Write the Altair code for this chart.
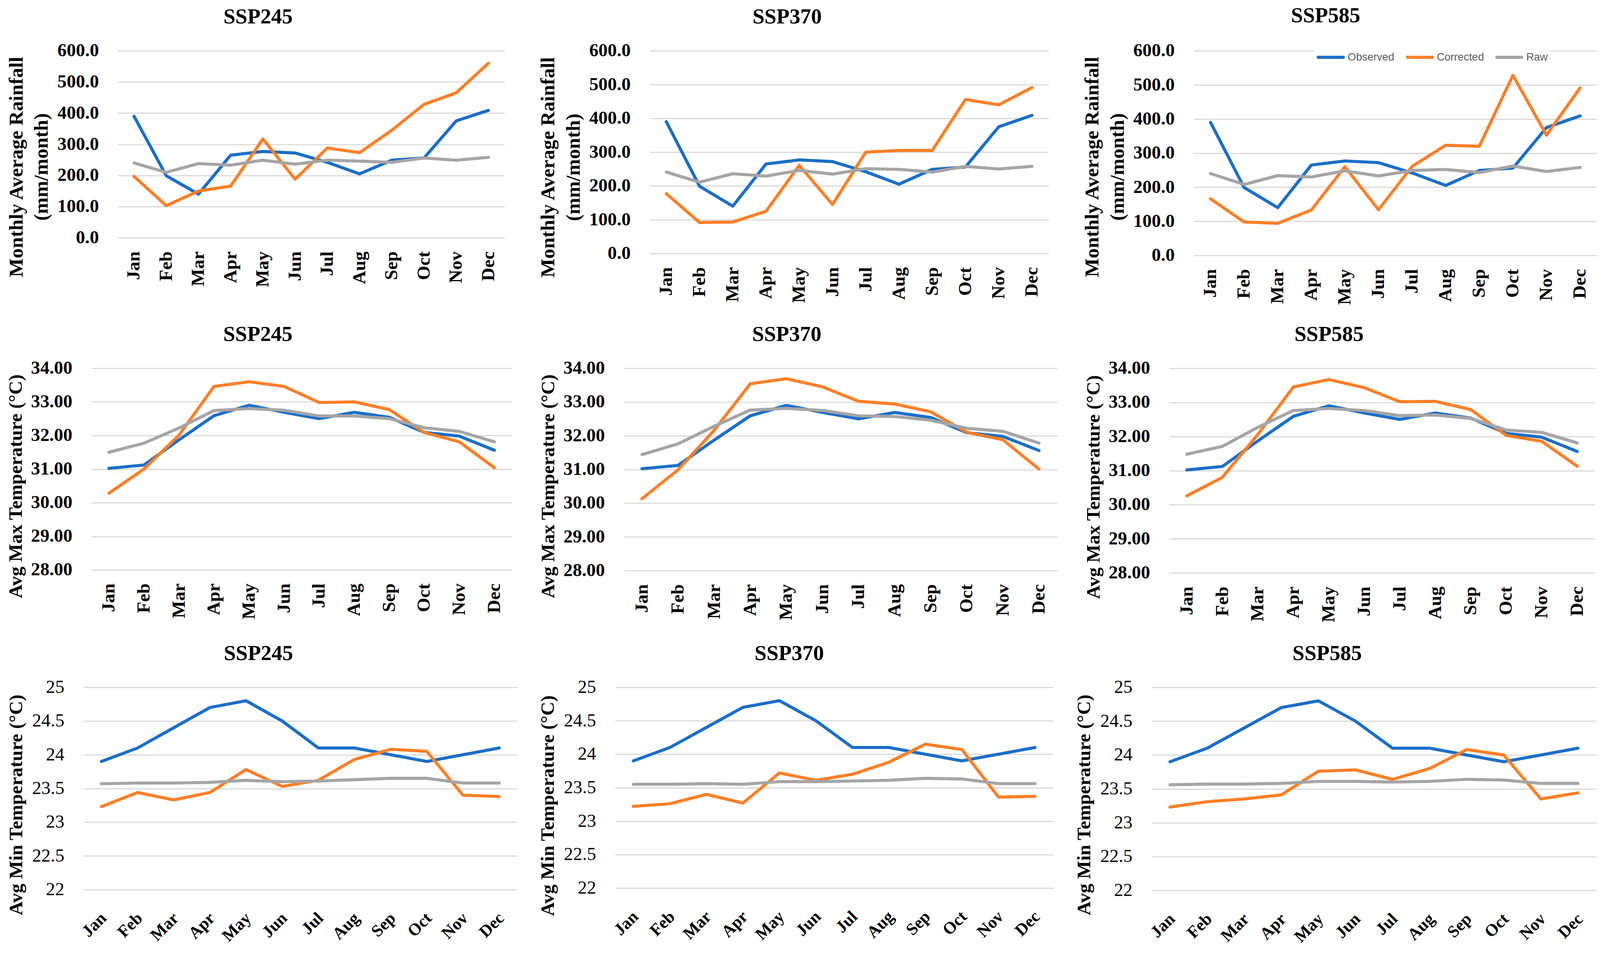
import altair as alt
import pandas as pd

MONTHS = ["Jan", "Feb", "Mar", "Apr", "May", "Jun", "Jul", "Aug", "Sep", "Oct", "Nov", "Dec"]
SERIES = ["Observed", "Corrected", "Raw"]
COLORS = ["#1a6ec8", "#ff7f27", "#a5a5a5"]
SCENARIOS = ["SSP245", "SSP370", "SSP585"]

# Monthly average rainfall (mm/month)
OBS_RAIN = [390, 199, 140, 265, 277, 272, 242, 205, 249, 256, 375, 409]
RAIN_CORR_245 = [197, 103, 150, 166, 317, 188, 288, 273, 345, 428, 465, 560]
RAIN_RAW_245 = [240, 210, 238, 233, 249, 236, 249, 246, 242, 256, 249, 258]
RAIN_CORR_370 = [177, 92, 93, 125, 261, 145, 300, 305, 305, 456, 440, 491]
RAIN_RAW_370 = [241, 211, 236, 229, 246, 235, 251, 249, 241, 258, 250, 258]
RAIN_CORR_585 = [166, 98, 94, 133, 260, 134, 261, 323, 320, 528, 353, 491]
RAIN_RAW_585 = [240, 208, 234, 230, 248, 233, 249, 252, 243, 262, 246, 258]

# Average maximum temperature (°C)
OBS_TMAX = [31.02, 31.12, 31.87, 32.59, 32.90, 32.69, 32.50, 32.69, 32.54, 32.09, 31.98, 31.56]
TMAX_CORR_245 = [30.28, 31.00, 32.01, 33.46, 33.60, 33.46, 32.98, 33.00, 32.77, 32.09, 31.81, 31.04]
TMAX_RAW_245 = [31.50, 31.77, 32.22, 32.74, 32.80, 32.75, 32.58, 32.58, 32.50, 32.23, 32.12, 31.81]
TMAX_CORR_370 = [30.13, 30.99, 32.16, 33.54, 33.69, 33.45, 33.02, 32.94, 32.71, 32.10, 31.88, 31.01]
TMAX_RAW_370 = [31.44, 31.76, 32.28, 32.76, 32.81, 32.75, 32.59, 32.57, 32.46, 32.22, 32.13, 31.78]
TMAX_CORR_585 = [30.26, 30.80, 32.06, 33.45, 33.67, 33.43, 33.02, 33.03, 32.79, 32.03, 31.86, 31.13]
TMAX_RAW_585 = [31.48, 31.71, 32.27, 32.76, 32.82, 32.76, 32.61, 32.63, 32.53, 32.19, 32.12, 31.81]

# Average minimum temperature (°C)
OBS_TMIN = [23.9, 24.1, 24.4, 24.7, 24.8, 24.5, 24.1, 24.1, 24.0, 23.9, 24.0, 24.1]
TMIN_CORR_245 = [23.23, 23.44, 23.33, 23.44, 23.78, 23.53, 23.62, 23.93, 24.08, 24.05, 23.40, 23.38]
TMIN_RAW_245 = [23.57, 23.58, 23.58, 23.59, 23.62, 23.60, 23.61, 23.63, 23.65, 23.65, 23.58, 23.58]
TMIN_CORR_370 = [23.22, 23.26, 23.40, 23.27, 23.72, 23.61, 23.70, 23.88, 24.15, 24.07, 23.36, 23.37]
TMIN_RAW_370 = [23.55, 23.55, 23.56, 23.55, 23.59, 23.59, 23.60, 23.61, 23.64, 23.63, 23.56, 23.56]
TMIN_CORR_585 = [23.23, 23.31, 23.35, 23.41, 23.76, 23.78, 23.64, 23.80, 24.08, 24.00, 23.35, 23.44]
TMIN_RAW_585 = [23.56, 23.57, 23.57, 23.58, 23.61, 23.61, 23.60, 23.61, 23.64, 23.63, 23.58, 23.58]

RAIN_TICKS = [0, 100, 200, 300, 400, 500, 600]
TMAX_TICKS = [28, 29, 30, 31, 32, 33, 34]
TMIN_TICKS = [22, 22.5, 23, 23.5, 24, 24.5, 25]

RAIN_TITLE = ["Monthly Average Rainfall", "(mm/month)"]
TMAX_TITLE = "Avg Max Temperature (°C)"
TMIN_TITLE = "Avg Min Temperature (°C)"

SERIF = "Liberation Serif"


def make_df(obs, corr, raw):
    rows = []
    for s, vals in zip(SERIES, [obs, corr, raw]):
        for m, v in zip(MONTHS, vals):
            rows.append({"month": m, "series": s, "value": v})
    return pd.DataFrame(rows)


def panel(obs, corr, raw, title, ydom, yvals, yfmt, ytitle, w, h, ty, tpad, tfs,
          xangle, xpad, xoff, xfs, tick_bold, tdx, legend=False):
    df = make_df(obs, corr, raw)
    x = alt.X(
        "month:N", sort=MONTHS,
        scale=alt.Scale(type="point", padding=0.5),
        axis=alt.Axis(title=None, labelAngle=xangle, grid=False, ticks=False,
                      tickSize=0, domain=False, labelPadding=xpad, labelOffset=xoff,
                      labelFont=SERIF, labelFontSize=xfs, labelFontWeight="bold",
                      labelColor="black"),
    )
    y = alt.Y(
        "value:Q",
        scale=alt.Scale(domain=ydom, nice=False, zero=False),
        axis=alt.Axis(values=yvals, format=yfmt, grid=True, gridColor="#d9d9d9",
                      gridWidth=3, ticks=False, tickSize=0, domain=False,
                      labelPadding=50, labelFont=SERIF, labelFontSize=48,
                      labelFontWeight="bold" if tick_bold else "normal",
                      labelColor="black", title=ytitle, titleFont=SERIF,
                      titleFontSize=tfs, titleFontWeight="bold", titleColor="black",
                      titleY=ty, titlePadding=tpad, titleLineHeight=66),
    )
    if legend:
        leg = alt.Legend(title=None, orient="none", legendX=313, legendY=-27,
                         direction="horizontal", columns=3, symbolType="stroke",
                         symbolSize=5184, symbolStrokeWidth=8,
                         labelFont="Liberation Sans", labelFontSize=28,
                         labelColor="#595959", labelOffset=4, columnPadding=14,
                         fillColor="white", padding=4, symbolOpacity=1)
    else:
        leg = None
    layers = []
    for s in SERIES:
        layers.append(
            alt.Chart(df)
            .transform_filter(alt.datum.series == s)
            .mark_line(strokeWidth=8, strokeJoin="round", strokeCap="round")
            .encode(x=x, y=y,
                    color=alt.Color("series:N",
                                    scale=alt.Scale(domain=SERIES, range=COLORS),
                                    legend=leg))
        )
    return alt.layer(*layers).properties(
        width=w, height=h,
        title=alt.TitleParams(text=title, font=SERIF, fontSize=56,
                              fontWeight="bold", color="black", offset=35,
                              frame="bounds", anchor="middle", dx=tdx),
    )


p1 = panel(OBS_RAIN, RAIN_CORR_245, RAIN_RAW_245, SCENARIOS[0], [0, 600], RAIN_TICKS,
           ".1f", RAIN_TITLE, 1007, 487, 302, 14, 52, 270, 35, 0, 48, True, 7)
p2 = panel(OBS_RAIN, RAIN_CORR_370, RAIN_RAW_370, SCENARIOS[1], [0, 600], RAIN_TICKS,
           ".1f", RAIN_TITLE, 1039, 528, 303, 14, 52, 270, 35, 0, 48, True, -16)
p3 = panel(OBS_RAIN, RAIN_CORR_585, RAIN_RAW_585, SCENARIOS[2], [0, 600], RAIN_TICKS,
           ".1f", RAIN_TITLE, 1050, 533, 302, 14, 52, 270, 35, 0, 48, True, -36,
           legend=True)

p4 = panel(OBS_TMAX, TMAX_CORR_245, TMAX_RAW_245, SCENARIOS[0], [28, 34], TMAX_TICKS,
           ".2f", TMAX_TITLE, 1095, 525, 307, 14, 50, 270, 35, 0, 48, True, -3)
p5 = panel(OBS_TMAX, TMAX_CORR_370, TMAX_RAW_370, SCENARIOS[1], [28, 34], TMAX_TICKS,
           ".2f", TMAX_TITLE, 1128, 527, 307, 14, 50, 270, 35, 0, 48, True, -29)
p6 = panel(OBS_TMAX, TMAX_CORR_585, TMAX_RAW_585, SCENARIOS[2], [28, 34], TMAX_TICKS,
           ".2f", TMAX_TITLE, 1109, 533, 309, 14, 50, 270, 35, 0, 48, True, -27)

p7 = panel(OBS_TMIN, TMIN_CORR_245, TMIN_RAW_245, SCENARIOS[0], [22, 25], TMIN_TICKS,
           "~g", TMIN_TITLE, 1130, 527, 306, 16, 50, 315, 52, -10, 44, False, -9)
p8 = panel(OBS_TMIN, TMIN_CORR_370, TMIN_RAW_370, SCENARIOS[1], [22, 25], TMIN_TICKS,
           "~g", TMIN_TITLE, 1141, 523, 308, 16, 50, 315, 52, -10, 44, False, -17)
p9 = panel(OBS_TMIN, TMIN_CORR_585, TMIN_RAW_585, SCENARIOS[2], [22, 25], TMIN_TICKS,
           "~g", TMIN_TITLE, 1159, 529, 306, 16, 50, 315, 52, -10, 44, False, -22)


def spacer():
    # empty 1x1 view so that every row starts its layout at the same left edge
    return alt.Chart(pd.DataFrame({"v": []})).mark_point().properties(width=1, height=1)


def row(panels, spacing):
    inner = alt.hconcat(*panels, spacing=spacing).resolve_scale(color="independent")
    return alt.hconcat(spacer(), inner, spacing=0).resolve_scale(color="independent")


row1 = row([p1, p2, p3], 87)
row2 = row([p4, p5, p6], 70)
row3 = row([p7, p8, p9], 55)
lower = alt.vconcat(row2, row3, spacing=53).resolve_scale(color="independent")

chart = (
    alt.vconcat(row1, lower, spacing=49)
    .resolve_scale(color="independent")
    .properties(padding={"left": 7, "top": -16, "right": 0, "bottom": 0},
                background="white")
    .configure_view(stroke=None)
)

chart.save("out.html", embed_options={"renderer": "svg", "actions": False})
